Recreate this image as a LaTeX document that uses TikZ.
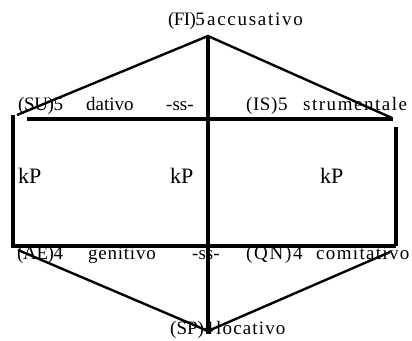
\documentclass[tikz,border=0pt]{standalone}
\usepackage{fontspec}
\setmainfont{Liberation Serif}
\usepackage{tikz}
\usetikzlibrary{positioning}
\newcommand{\trk}[2]{{\addfontfeature{LetterSpace=#1}#2}}
\tikzset{
  lbl/.style={inner sep=0pt, anchor=base west, font=\fontsize{19}{22}\selectfont},
  kplbl/.style={inner sep=0pt, anchor=base west, font=\fontsize{22}{26}\selectfont},
  edge/.style={draw=black, line width=3.2pt},
  diag/.style={draw=black, line width=2.4pt},
}
\begin{document}
\begin{tikzpicture}[x=1pt, y=-1pt]
  \useasboundingbox (0,0) rectangle (412,340);
  % labels
  \node[lbl] (fi)  at (168,25)  {\trk{-3}{(FI)5}};
  \node[lbl] (acc) at (207,25)  {\trk{9}{accusativo}};
  \node[lbl] (su)  at (18,110)  {\trk{-2}{(SU)5}};
  \node[lbl] (dat) at (86,110)  {dativo};
  \node[lbl] (ss1) at (166,110) {-ss-};
  \node[lbl] (is)  at (246,110) {\trk{3}{(IS)5}};
  \node[lbl] (str) at (303,110) {\trk{8}{strumentale}};
  \node[kplbl] (kp1) at (18,183)  {kP};
  \node[kplbl] (kp2) at (170,183) {kP};
  \node[kplbl] (kp3) at (320,183) {kP};
  \node[lbl] (ae)  at (17,259)  {\trk{-2}{(AE)4}};
  \node[lbl] (gen) at (88,259)  {\trk{4}{genitivo}};
  \node[lbl] (ss2) at (192,259) {-ss-};
  \node[lbl] (qn)  at (246,259) {\trk{9}{(QN)4}};
  \node[lbl] (com) at (316,259) {\trk{7}{comitativo}};
  \node[lbl] (sp)  at (170,334) {(SP)4};
  \node[lbl] (loc) at (216,334) {\trk{6}{locativo}};
  % frame points
  \coordinate (apex) at (208,36);
  \coordinate (tl) at (17,115);
  \coordinate (tr) at (392,118);
  \coordinate (h1l) at (27,119);
  \coordinate (h1r) at (393,119);
  \coordinate (lt) at (13,115);
  \coordinate (lb) at (13,248);
  \coordinate (rt) at (396,127);
  \coordinate (rb) at (396,246);
  \coordinate (h2l) at (13,246);
  \coordinate (h2r) at (396,246);
  \coordinate (bl) at (18,250);
  \coordinate (br) at (390,252);
  \coordinate (bot) at (208,331);
  \coordinate (cbot) at (208,334);
  % lines
  \draw[diag] (tl) -- (apex) -- (tr);
  \draw[edge] (apex) -- (cbot);
  \draw[edge] (h1l) -- (h1r);
  \draw[edge] (lt) -- (lb);
  \draw[edge] (rt) -- (rb);
  \draw[edge] (h2l) -- (h2r);
  \draw[diag] (bl) -- (bot) -- (br);
\end{tikzpicture}
\end{document}
